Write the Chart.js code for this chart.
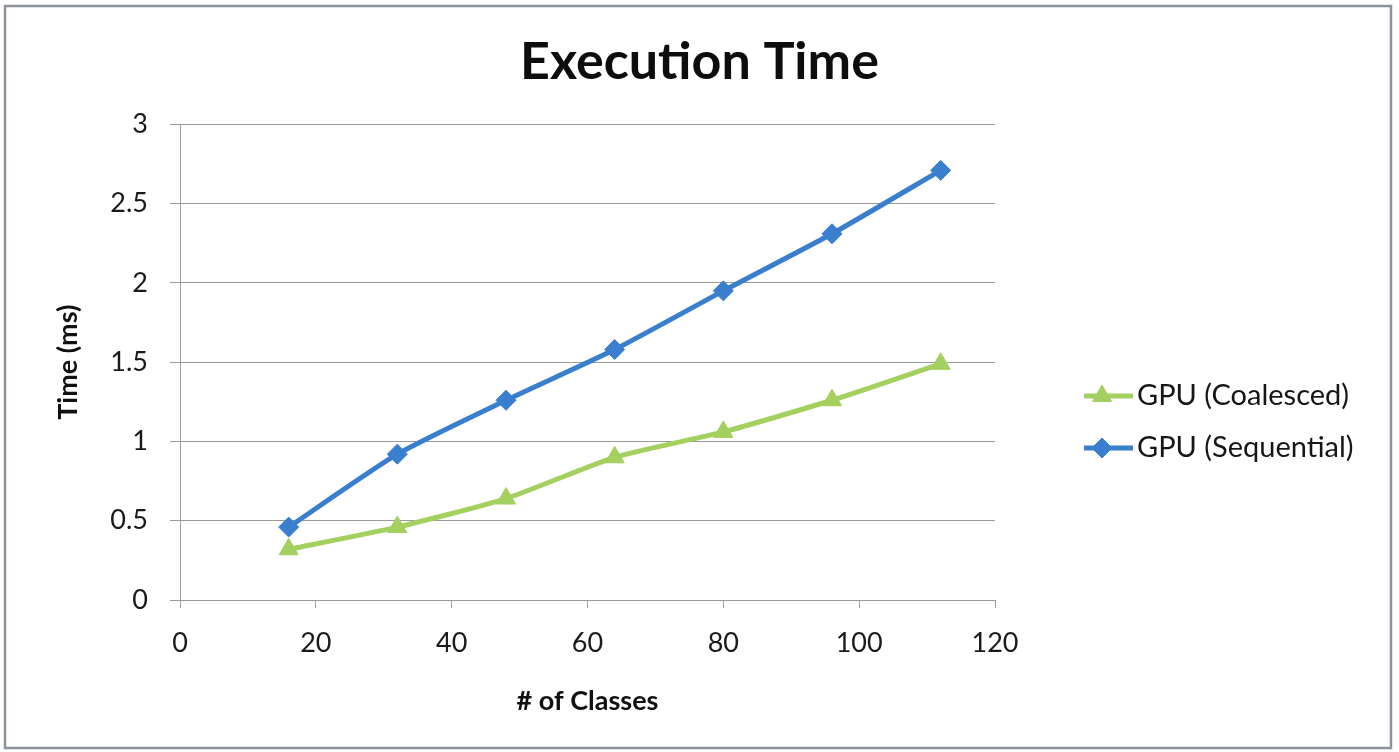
<!DOCTYPE html>
<html>
<head>
<meta charset="utf-8">
<title>Execution Time</title>
<script src="https://cdn.jsdelivr.net/npm/chart.js@4/dist/chart.umd.min.js"></script>
<style>
  html, body { margin: 0; padding: 0; background: #fff; }
  #wrap { width: 1399px; height: 752px; position: relative; }
</style>
</head>
<body>
<div id="wrap"><canvas id="c" width="1399" height="752"></canvas></div>
<script>
// Number of classes on the x axis
const classes = [16, 32, 48, 64, 80, 96, 112];
// Execution time in ms for each kernel variant
const coalescedMs = [0.32, 0.46, 0.64, 0.90, 1.06, 1.26, 1.49];
const sequentialMs = [0.46, 0.92, 1.26, 1.58, 1.95, 2.31, 2.71];
const seriesNames = ['GPU (Coalesced)', 'GPU (Sequential)'];
const xTicks = [0, 20, 40, 60, 80, 100, 120];
const yTicks = [0, 0.5, 1, 1.5, 2, 2.5, 3];

const BLUE = '#3a7fce';
const GREEN = '#a3d05e';
const FONT = 'Lato, "Open Sans", "DejaVu Sans", sans-serif';

const toPoints = ys => classes.map((x, i) => ({ x, y: ys[i] }));

// White background and the grey frame around the whole chart
const framePlugin = {
  id: 'frame',
  beforeDraw(chart) {
    const ctx = chart.ctx;
    ctx.save();
    ctx.fillStyle = '#ffffff';
    ctx.fillRect(0, 0, chart.width, chart.height);
    ctx.strokeStyle = '#8d929c';
    ctx.lineWidth = 2.5;
    ctx.strokeRect(5, 6, 1386, 742);
    ctx.restore();
  }
};

// Legend drawn as line + marker swatches to the right of the plot
const legendPlugin = {
  id: 'lineLegend',
  afterDraw(chart) {
    const ctx = chart.ctx;
    const ys = [396, 448];
    ctx.save();
    chart.data.datasets.forEach((ds, k) => {
      const y = ys[k];
      ctx.strokeStyle = ds.borderColor;
      ctx.lineWidth = 5;
      ctx.beginPath();
      ctx.moveTo(1084, y);
      ctx.lineTo(1133, y);
      ctx.stroke();
      ctx.fillStyle = ds.pointBackgroundColor;
      ctx.strokeStyle = ds.pointBorderColor;
      ctx.lineWidth = 1;
      Chart.helpers.drawPoint(ctx, {
        pointStyle: ds.pointStyle,
        radius: ds.pointRadius,
        rotation: 0,
        borderWidth: 1
      }, 1102, y);
      ctx.fillStyle = '#161616';
      ctx.font = '29px ' + FONT;
      ctx.textBaseline = 'middle';
      ctx.textAlign = 'left';
      ctx.fillText(ds.label, 1137, y);
    });
    ctx.restore();
  }
};

const tickFont = { family: FONT, size: 27 };
const axisTitleFont = { family: FONT, size: 27, weight: 'bold', lineHeight: 1.2 };

new Chart(document.getElementById('c'), {
  type: 'line',
  data: {
    datasets: [
      {
        label: seriesNames[0],
        data: toPoints(coalescedMs),
        borderColor: GREEN,
        backgroundColor: GREEN,
        pointBackgroundColor: GREEN,
        pointBorderColor: GREEN,
        pointStyle: 'triangle',
        pointRadius: 11,
        pointBorderWidth: 1,
        borderWidth: 5,
        tension: 0.2
      },
      {
        label: seriesNames[1],
        data: toPoints(sequentialMs),
        borderColor: BLUE,
        backgroundColor: BLUE,
        pointBackgroundColor: BLUE,
        pointBorderColor: BLUE,
        pointStyle: 'rectRot',
        pointRadius: 10,
        pointBorderWidth: 1,
        borderWidth: 5,
        tension: 0.2
      }
    ]
  },
  options: {
    responsive: false,
    animation: false,
    layout: { padding: 0 },
    plugins: {
      legend: { display: false },
      tooltip: { enabled: false },
      title: {
        display: true,
        text: 'Execution Time',
        color: '#0d0d0d',
        font: { family: FONT, size: 52, weight: 'bold', lineHeight: 1.2 },
        padding: { top: 31, bottom: 31 }
      }
    },
    scales: {
      x: {
        type: 'linear',
        min: 0,
        max: 120,
        afterBuildTicks(scale) { scale.ticks = xTicks.map(v => ({ value: v })); },
        afterFit(scale) { scale.height = 152; },
        grid: {
          display: true,
          drawOnChartArea: false,
          drawTicks: true,
          tickLength: 8,
          color: '#9a9a9a',
          lineWidth: 1
        },
        border: { display: true, color: '#9a9a9a', width: 1 },
        ticks: {
          color: '#1a1a1a',
          padding: 19,
          font: tickFont,
          callback: v => String(v)
        },
        title: {
          display: true,
          text: '# of Classes',
          color: '#111111',
          font: axisTitleFont,
          padding: { top: 0, bottom: 35 }
        }
      },
      y: {
        type: 'linear',
        min: 0,
        max: 3,
        afterBuildTicks(scale) { scale.ticks = yTicks.map(v => ({ value: v })); },
        afterFit(scale) { scale.width = 180; },
        grid: {
          display: true,
          drawTicks: true,
          tickLength: 10,
          color: '#9a9a9a',
          lineWidth: 1
        },
        border: { display: true, color: '#9a9a9a', width: 1 },
        ticks: {
          color: '#1a1a1a',
          padding: 22,
          font: tickFont,
          callback: v => String(v)
        },
        title: {
          display: true,
          text: 'Time (ms)',
          color: '#111111',
          font: axisTitleFont,
          padding: { top: 52, bottom: 0 }
        }
      },
      // empty right-hand axis that reserves the space where the legend sits
      legendSpace: {
        type: 'linear',
        position: 'right',
        min: 0,
        max: 3,
        afterFit(scale) { scale.width = 404; },
        grid: { display: false, drawTicks: false },
        border: { display: false },
        ticks: { display: false },
        title: { display: false }
      }
    }
  },
  plugins: [framePlugin, legendPlugin]
});
</script>
</body>
</html>
